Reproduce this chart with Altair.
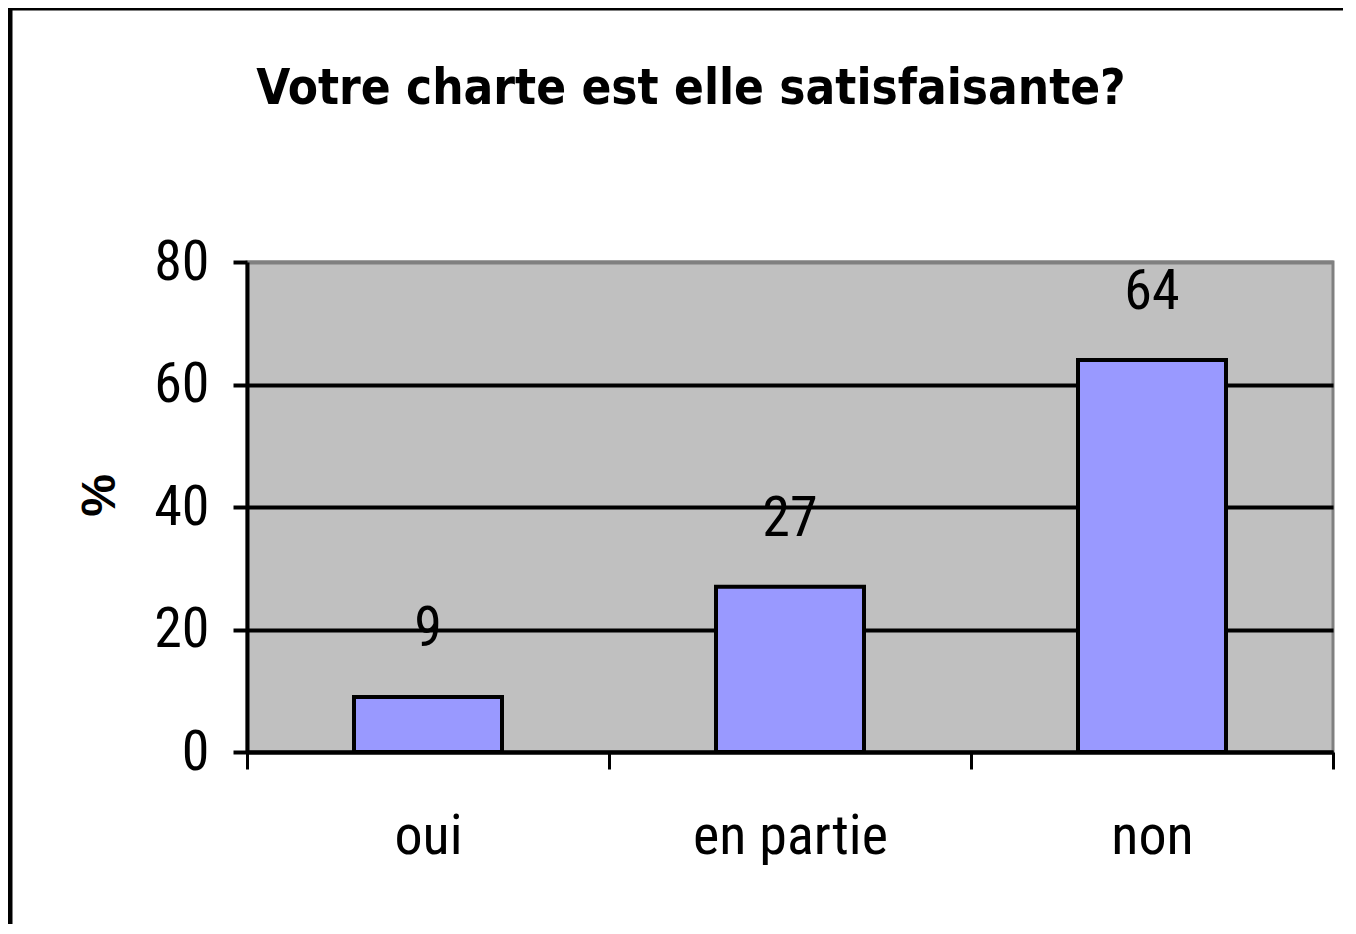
import altair as alt
import pandas as pd

categories = ["oui", "en partie", "non"]
values = [9, 27, 64]

df = pd.DataFrame({"cat": categories, "val": values})

FONT = "Roboto Condensed, Liberation Sans, Arial, sans-serif"
TFONT = "DejaVu Sans Condensed, Roboto Condensed, sans-serif"
W, H = 1086, 490

x_enc = alt.X("cat:N", sort=categories, title=None,
              scale=alt.Scale(paddingInner=0, paddingOuter=0),
              axis=alt.Axis(labelAngle=0, labelFont=FONT, labelFontSize=56, labelColor="black",
                            labelLimit=0, labelPadding=40, tickBand="extent", tickSize=17, tickWidth=3,
                            tickColor="black", domainColor="black", domainWidth=4, grid=False))
y_enc = alt.Y("val:Q", title="%",
              scale=alt.Scale(domain=[0, 80]),
              axis=alt.Axis(values=[0, 20, 40, 60, 80], labelFont=FONT, labelFontSize=56,
                            labelColor="black", labelPadding=24, tickSize=14, tickWidth=4,
                            tickColor="black", domainColor="black", domainWidth=4,
                            grid=True, gridWidth=4,
                            gridColor={"condition": {"test": "datum.value === 80", "value": "#808080"}, "value": "black"},
                            titleFont="Liberation Sans, Arial, sans-serif", titleFontSize=48,
                            titleFontWeight="bold", titleColor="black",
                            titleAngle=-90, titleAlign="center", titleBaseline="middle",
                            titleX=-147, titleY=233))

bars = alt.Chart(df).mark_bar(size=148, color="#9999FF", stroke="black", strokeWidth=4).encode(
    x=x_enc, y=y_enc)

labels = alt.Chart(df).mark_text(dy=-68, fontSize=56, font=FONT, color="black", baseline="middle").encode(
    x=alt.X("cat:N", sort=categories), y=alt.Y("val:Q"), text=alt.Text("val:Q"))

border = alt.Chart(alt.Data(values=[{"a": 1}])).mark_rect(
    fill=None, stroke="black", strokeWidth=5).encode(
    x=alt.value(-237), x2=alt.value(W + 200), y=alt.value(-254), y2=alt.value(H + 300))

chart = alt.layer(bars, labels, border).properties(
    width=W, height=H,
    autosize=alt.AutoSizeParams(type="none"),
    padding={"left": 239, "top": 254, "right": 10, "bottom": 172},
    background="white",
    title=alt.TitleParams("Votre  charte est elle satisfaisante?", font=TFONT, fontSize=49,
                          fontWeight="bold", color="black", anchor="middle", frame="group",
                          dx=-99, offset=-157, baseline="bottom"),
).configure_view(fill="#C0C0C0", stroke="#808080", strokeWidth=3)

chart.save("out.html", embed_options={"renderer": "svg", "actions": False})
